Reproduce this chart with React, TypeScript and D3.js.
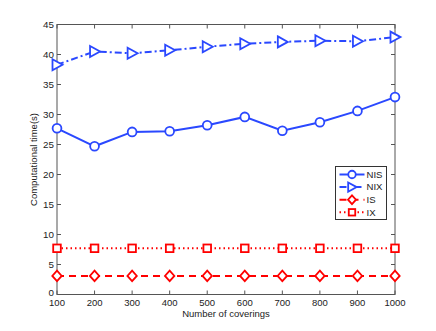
import React, { useEffect, useRef } from "react";
import * as d3 from "d3";

const coverings = [100, 200, 300, 400, 500, 600, 700, 800, 900, 1000];
const nisTimes = [27.7, 24.7, 27.1, 27.2, 28.2, 29.6, 27.3, 28.7, 30.6, 32.9];
const nixTimes = [38.3, 40.5, 40.2, 40.7, 41.3, 41.8, 42.1, 42.3, 42.2, 42.9];
const isTimes = [3.1, 3.1, 3.1, 3.1, 3.1, 3.1, 3.1, 3.1, 3.1, 3.1];
const ixTimes = [7.7, 7.7, 7.7, 7.7, 7.7, 7.7, 7.7, 7.7, 7.7, 7.7];
const yTicks = [0, 5, 10, 15, 20, 25, 30, 35, 40, 45];

const BLUE = "#2a48ff";
const RED = "#ff0000";

const series = [
  { name: "NIS", values: nisTimes, color: BLUE, dash: null, marker: "circle" },
  { name: "NIX", values: nixTimes, color: BLUE, dash: "7,3,2,3", marker: "triangle" },
  { name: "IS", values: isTimes, color: RED, dash: "7,5", marker: "diamond" },
  { name: "IX", values: ixTimes, color: RED, dash: "1.5,3", marker: "square" }
];

function drawMarker(g: any, type: string, x: number, y: number, color: string, k = 1) {
  const sw = 1.8;
  if (type === "circle") {
    g.append("circle").attr("cx", x).attr("cy", y).attr("r", 4.4 * k)
      .attr("fill", "white").attr("stroke", color).attr("stroke-width", sw);
  } else if (type === "triangle") {
    g.append("path")
      .attr("d", `M${x - 4.5 * k},${y - 5.5 * k}L${x + 5.5 * k},${y}L${x - 4.5 * k},${y + 5.5 * k}Z`)
      .attr("fill", "white").attr("stroke", color).attr("stroke-width", sw);
  } else if (type === "diamond") {
    g.append("path")
      .attr("d", `M${x},${y - 5.2 * k}L${x + 4.7 * k},${y}L${x},${y + 5.2 * k}L${x - 4.7 * k},${y}Z`)
      .attr("fill", "white").attr("stroke", color).attr("stroke-width", sw);
  } else {
    const s = 3.8 * k;
    g.append("rect").attr("x", x - s).attr("y", y - s).attr("width", 2 * s).attr("height", 2 * s)
      .attr("fill", "white").attr("stroke", color).attr("stroke-width", sw);
  }
}

export default function App() {
  const ref = useRef<SVGSVGElement>(null);

  useEffect(() => {
    const svg = d3.select(ref.current);
    svg.selectAll("*").remove();

    const margin = { left: 57, top: 24.5, right: 41, bottom: 36.5 };
    const W = 436, H = 331;
    const w = W - margin.left - margin.right;
    const h = H - margin.top - margin.bottom;

    const x = d3.scaleLinear().domain([100, 1000]).range([0, w]);
    const y = d3.scaleLinear().domain([0, 45]).range([h, 0]);

    const g = svg.append("g").attr("transform", `translate(${margin.left},${margin.top})`);
    const font = "Liberation Sans, Arial, sans-serif";
    const axisColor = "#555";

    // ticks inward, on all four sides
    coverings.forEach(v => {
      g.append("line").attr("x1", x(v)).attr("x2", x(v)).attr("y1", h).attr("y2", h - 4)
        .attr("stroke", axisColor).attr("stroke-width", 1);
      g.append("line").attr("x1", x(v)).attr("x2", x(v)).attr("y1", 0).attr("y2", 4)
        .attr("stroke", axisColor).attr("stroke-width", 1);
      g.append("text").attr("x", x(v)).attr("y", h + 11).attr("text-anchor", "middle")
        .attr("font-family", font).attr("font-size", 9.5).attr("fill", "#222").text(v);
    });
    yTicks.forEach(v => {
      g.append("line").attr("x1", 0).attr("x2", 4).attr("y1", y(v)).attr("y2", y(v))
        .attr("stroke", axisColor).attr("stroke-width", 1);
      g.append("line").attr("x1", w).attr("x2", w - 4).attr("y1", y(v)).attr("y2", y(v))
        .attr("stroke", axisColor).attr("stroke-width", 1);
      g.append("text").attr("x", -3).attr("y", y(v)).attr("dy", v === 0 ? "0.2em" : "0.35em")
        .attr("text-anchor", "end")
        .attr("font-family", font).attr("font-size", 9.8).attr("fill", "#222").text(v);
    });

    g.append("rect").attr("x", 0).attr("y", 0).attr("width", w).attr("height", h)
      .attr("fill", "none").attr("stroke", axisColor).attr("stroke-width", 1);

    const line = d3.line<number>().x((d, i) => x(coverings[i])).y(d => y(d));

    series.forEach(s => {
      g.append("path").datum(s.values).attr("d", line).attr("fill", "none")
        .attr("stroke", s.color).attr("stroke-width", 2)
        .attr("stroke-dasharray", s.dash);
      s.values.forEach((v, i) => drawMarker(g, s.marker, x(coverings[i]), y(v), s.color));
    });

    // axis labels
    svg.append("text").attr("x", margin.left + w / 2).attr("y", 317).attr("text-anchor", "middle")
      .attr("font-family", font).attr("font-size", 9.5).attr("fill", "#222").text("Number of coverings");
    svg.append("text").attr("transform", `translate(37,${margin.top + h / 2}) rotate(-90)`)
      .attr("text-anchor", "middle").attr("font-family", font).attr("font-size", 9.5)
      .attr("fill", "#222").text("Computational time(s)");

    // legend
    const lg = svg.append("g").attr("transform", "translate(335.5,166.5)");
    lg.append("rect").attr("x", 0).attr("y", 0).attr("width", 51).attr("height", 53)
      .attr("fill", "white").attr("stroke", "#333").attr("stroke-width", 1);
    series.forEach((s, i) => {
      const yy = 8 + i * 12.6;
      lg.append("line").attr("x1", 4).attr("x2", 29).attr("y1", yy).attr("y2", yy)
        .attr("stroke", s.color).attr("stroke-width", 2).attr("stroke-dasharray", s.dash);
      drawMarker(lg, s.marker, 16.5, yy, s.color, 0.85);
      lg.append("text").attr("x", 31).attr("y", yy).attr("dy", "0.35em")
        .attr("font-family", font).attr("font-size", 9.6).attr("fill", "#222").text(s.name);
    });
  }, []);

  return (
    <svg ref={ref} width={436} height={331}
      style={{ position: "absolute", left: 0, top: 0, background: "white" }} />
  );
}
